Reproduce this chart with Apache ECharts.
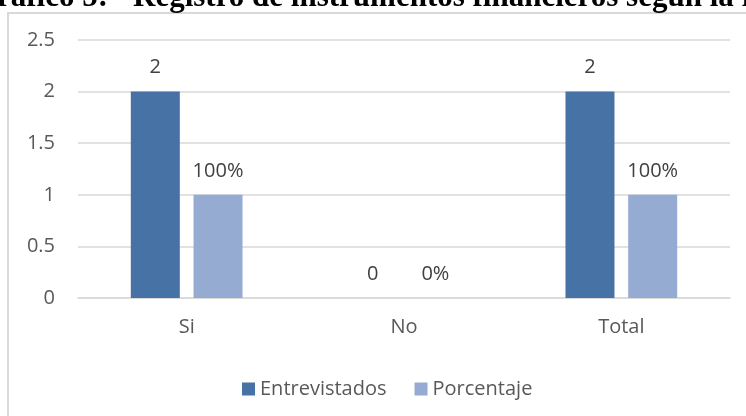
<!DOCTYPE html>
<html>
<head>
<meta charset="utf-8">
<script src="https://cdn.jsdelivr.net/npm/echarts@6/dist/echarts.min.js"></script>
<style>
  html, body { margin: 0; padding: 0; background: #fff; }
  #chart { width: 746px; height: 416px; }
</style>
</head>
<body>
<div id="chart"></div>
<script>
const categories = ["Si", "No", "Total"];
const entrevistados = [2, 0, 2];
const porcentaje = [1, 0, 1];
const yTicks = [0, 0.5, 1, 1.5, 2, 2.5];

const font = "Open Sans";
const titleFont = 'bold 31px "Liberation Serif"';
const chart = echarts.init(document.getElementById("chart"));

chart.setOption({
  backgroundColor: "#fff",
  animation: false,
  textStyle: { fontFamily: font },
  graphic: [
    {
      type: "rect",
      shape: { x: 8, y: 13, width: 800, height: 500 },
      style: { fill: "none", stroke: "#d9d9d9", lineWidth: 2 },
      z: 0
    },
    // title is cut off by the top of the picture, only the lower part shows
    {
      type: "text",
      x: 108,
      y: -18,
      style: {
        text: "Gráfico 5:",
        font: titleFont,
        fill: "#000",
        align: "right",
        verticalAlign: "top"
      },
      z: 10
    },
    {
      type: "text",
      x: 133,
      y: -18,
      style: {
        text: "Registro de instrumentos financieros según la r",
        font: titleFont,
        fill: "#000",
        align: "left",
        verticalAlign: "top"
      },
      z: 10
    }
  ],
  grid: { left: 78, right: 16, top: 40, bottom: 118 },
  legend: {
    left: 237,
    top: 374,
    itemWidth: 13,
    itemHeight: 13,
    itemGap: 28,
    icon: "rect",
    textStyle: { fontFamily: font, fontSize: 20, color: "#595959" },
    data: ["Entrevistados", "Porcentaje"]
  },
  xAxis: {
    type: "category",
    data: categories,
    axisTick: { show: false },
    axisLine: { lineStyle: { color: "#d9d9d9", width: 1.5 } },
    axisLabel: { margin: 19, fontSize: 20, color: "#595959", fontFamily: font }
  },
  yAxis: {
    type: "value",
    min: yTicks[0],
    max: yTicks[yTicks.length - 1],
    interval: 0.5,
    axisLine: { show: false },
    axisTick: { show: false },
    splitLine: { lineStyle: { color: "#d9d9d9", width: 1.5 } },
    axisLabel: { margin: 23, fontSize: 20, color: "#595959", fontFamily: font }
  },
  series: [
    {
      name: "Entrevistados",
      type: "bar",
      data: entrevistados,
      barWidth: 49,
      barGap: "28%",
      itemStyle: { color: "#4672a5" },
      label: {
        show: true,
        position: "top",
        distance: 14,
        fontSize: 20,
        color: "#404040",
        fontFamily: font
      }
    },
    {
      name: "Porcentaje",
      type: "bar",
      data: porcentaje,
      barWidth: 49,
      itemStyle: { color: "#95abd1" },
      label: {
        show: true,
        position: "top",
        distance: 14,
        fontSize: 20,
        color: "#404040",
        fontFamily: font,
        formatter: p => Math.round(p.value * 100) + "%"
      }
    }
  ]
});
</script>
</body>
</html>
